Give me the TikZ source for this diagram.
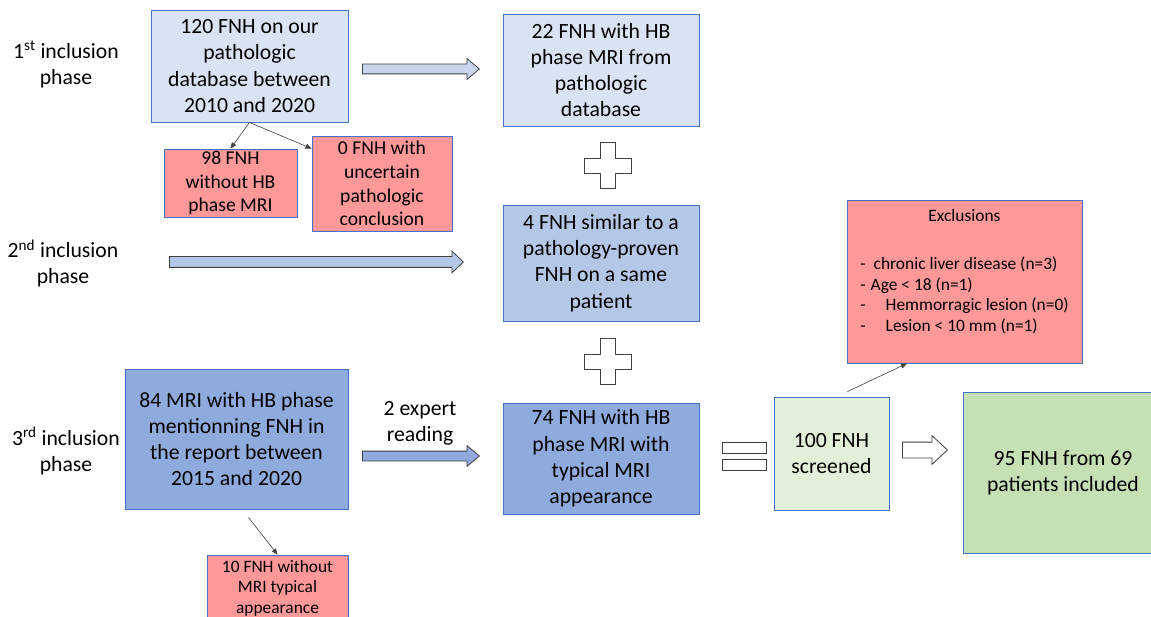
\documentclass[tikz,border=0pt]{standalone}
\usepackage{fontspec}
\setmainfont{Carlito}
\usetikzlibrary{shapes.arrows,arrows.meta}
\definecolor{pale}{HTML}{DAE3F3}
\definecolor{mid}{HTML}{B4C7E7}
\definecolor{deep}{HTML}{8FAADC}
\definecolor{rose}{HTML}{FF9999}
\definecolor{mint}{HTML}{E2F0D9}
\definecolor{sage}{HTML}{C5E0B4}
\definecolor{edge}{HTML}{4472C4}
\definecolor{ink}{HTML}{404040}
\newcommand{\fbig}{\fontsize{21.7}{26.3}\selectfont}
\newcommand{\fmid}{\fontsize{19.6}{23.6}\selectfont}
\newcommand{\fsmall}{\fontsize{17.4}{20.6}\selectfont}
\begin{document}
\begin{tikzpicture}[x=1pt,y=-1pt,
			every node/.style={inner sep=0pt,align=center,font=\fbig},
			box/.style={draw=edge,line width=0.9pt},
			red/.style={box,fill=rose,font=\fmid},
			barrow/.style={single arrow,draw=ink,line width=0.8pt,anchor=tail,inner xsep=0pt,inner ysep=4.5pt,
				single arrow head extend=5.5pt,single arrow tip angle=80},
			link/.style={draw=ink,line width=0.6pt,-{Triangle[length=6pt,width=5pt]}},
			op/.style={draw=ink,line width=1pt,fill=white},]
\useasboundingbox[fill=white] (0,0) rectangle (1151,617);
\node (phaseA) at (66,64.5) {1\textsuperscript{st} inclusion\\phase};
\node (phaseB) at (63,263.5) {2\textsuperscript{nd} inclusion\\phase};
\node (phaseC) at (66,451) {3\textsuperscript{rd} inclusion\\phase};
\node[box,fill=pale,minimum width=197pt,minimum height=112pt] (patho) at (249.5,66)
	{120 FNH on our\\pathologic\\database between\\2010 and 2020};
\node[red,minimum width=133pt,minimum height=68pt] (noHB) at (230.5,183) {98 FNH\\without HB\\phase MRI};
\node[red,minimum width=140pt,minimum height=95pt] (uncert) at (382,183.5)
	{0 FNH with\\uncertain\\pathologic\\conclusion};
\node[box,fill=pale,minimum width=196pt,minimum height=112pt] (hbPatho) at (601,70)
	{22 FNH with HB\\phase MRI from\\pathologic\\database};
\node[box,fill=mid,minimum width=196pt,minimum height=116pt] (similar) at (601,263)
	{4 FNH similar to a\\pathology-proven\\FNH on a same\\patient};
\node[box,fill=deep,minimum width=223pt,minimum height=140pt] (report) at (236.5,439)
	{84 MRI with HB phase\\mentionning FNH in\\the report between\\2015 and 2020};
\node[red,font=\fsmall,minimum width=141pt,minimum height=66pt] (atyp) at (277.5,588)
	{10 FNH without\\MRI typical\\appearance};
\node[box,fill=deep,minimum width=196pt,minimum height=111pt] (typical) at (601,458.5)
	{74 FNH with HB\\phase MRI with\\typical MRI\\appearance};
\node (expert) at (420,423) {2 expert\\reading};
\node[box,fill=mint,minimum width=115pt,minimum height=113pt] (screen) at (831.5,453.5) {100 FNH\\screened};
\node[box,fill=sage,minimum width=200pt,minimum height=161pt] (incl) at (1063,472.5) {95 FNH from 69\\patients included};
\node[red,font=\fsmall,minimum width=235pt,minimum height=163pt] (excl) at (964.5,281.5)
	{\begin{tabular}{@{}l@{}}\multicolumn{1}{c}{Exclusions}\\[27pt]
	-\hspace{8pt}chronic liver disease (n=3)\\
	-\hspace{5pt}Age < 18 (n=1)\\
	-\hspace{20pt}Hemmorragic lesion (n=0)\\
	-\hspace{20pt}Lesion < 10 mm (n=1)\\[18pt]\end{tabular}};
\node[barrow,fill=pale!50!mid,minimum height=117pt] (arrA) at (362,69) {};
\node[barrow,fill=mid,minimum height=294pt,inner ysep=5pt,single arrow tip angle=87] (arrB) at (169,262) {};
\node[barrow,fill=deep,minimum height=117pt] (arrC) at (362,456) {};
\node[barrow,fill=white,minimum height=45pt,inner ysep=7.5pt,single arrow head extend=6.5pt,
	single arrow tip angle=86] (arrD) at (902,450) {};
\foreach \y in {166,362}
	\draw[op] (600,\y-23) -- ++(15,0) -- ++(0,15.5) -- ++(16,0) -- ++(0,15) -- ++(-16,0) -- ++(0,15.5)
		-- ++(-15,0) -- ++(0,-15.5) -- ++(-16,0) -- ++(0,-15) -- ++(16,0) -- cycle;
\draw[op] (722,442) rectangle (766,453) (722,459) rectangle (766,470);
\draw[link] (patho.south) -- (noHB.north);
\draw[link] (patho.south) -- ([yshift=-13pt]uncert.north west);
\draw[link] ([xshift=12pt,yshift=-8pt]report.south) -- (atyp.north);
\draw[link] ([xshift=16pt,yshift=5pt]screen.north) -- ([xshift=-57.5pt]excl.south);
\end{tikzpicture}
\end{document}
